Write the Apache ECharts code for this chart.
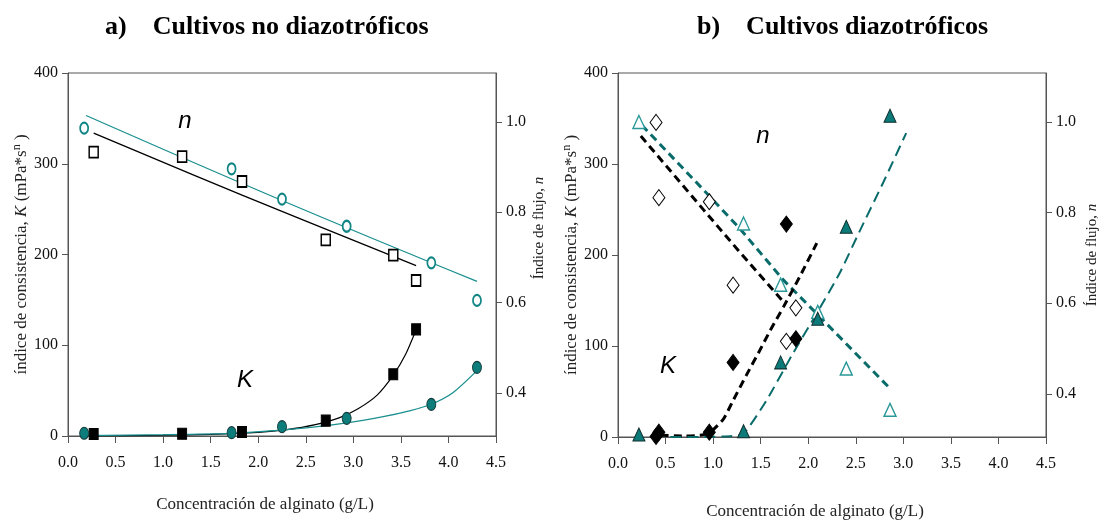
<!DOCTYPE html>
<html>
<head>
<meta charset="utf-8">
<script src="https://cdn.jsdelivr.net/npm/echarts@6/dist/echarts.min.js"></script>
<style>html,body{margin:0;padding:0;background:#fff;}#c{width:1099px;height:520px;}</style>
</head>
<body>
<div id="c"></div>
<script>
// ---------- data: a) Cultivos no diazotróficos ----------
const xNoDiazTeal = [0.17, 1.72, 2.25, 2.93, 3.82, 4.30];
const nNoDiazTeal = [0.986, 0.896, 0.829, 0.769, 0.688, 0.605];
const kNoDiazTeal = [3.0, 3.7, 10.3, 19.5, 34.9, 75.7];
const xNoDiazBlack = [0.27, 1.20, 1.83, 2.71, 3.42, 3.66];
const nNoDiazBlack = [0.933, 0.923, 0.868, 0.739, 0.705, 0.649];
const kNoDiazBlack = [2.2, 2.5, 4.4, 16.9, 68, 117.5];
// fitted curves
const nFitNoDiazTealX = [0.19, 2.25, 4.3];
const nFitNoDiazTealY = [1.014, 0.826, 0.647];
const nFitNoDiazBlackX = [0.27, 1.83, 3.66];
const nFitNoDiazBlackY = [0.975, 0.838, 0.682];
const kFitNoDiazBlackX = [0.27, 1.0, 1.5, 2.0, 2.3, 2.6, 2.85, 3.05, 3.25, 3.42, 3.55, 3.66];
const kFitNoDiazBlackY = [0.2, 0.8, 1.8, 4.0, 7, 12.5, 20, 30, 45, 67, 90, 117];
const kFitNoDiazTealX = [0.17, 1.0, 1.7, 2.25, 2.6, 2.93, 3.3, 3.6, 3.82, 4.05, 4.3];
const kFitNoDiazTealY = [0.5, 1.5, 3, 6.5, 10, 14.5, 21, 28, 35, 48, 72];

// ---------- data: b) Cultivos diazotróficos ----------
const xDiazTri = [0.22, 1.32, 1.71, 2.10, 2.40, 2.86];
const nDiazTri = [1.0, 0.776, 0.641, 0.581, 0.456, 0.365];
const kDiazTri = [2.8, 6.4, 82, 130, 231, 353];
const xDiazDia = [0.40, 0.43, 0.96, 1.21, 1.77, 1.87];
const nDiazDia = [0.999, 0.833, 0.824, 0.640, 0.516, 0.590];
const kDiazDia = [0.5, 5.3, 5.3, 82, 234, 108];
const nFitDiazBlackX = [0.24, 0.9, 1.28, 1.76];
const nFitDiazBlackY = [0.969, 0.806, 0.713, 0.598];
const nFitDiazTealX = [0.25, 0.9, 1.28, 1.74, 2.09, 2.86];
const nFitDiazTealY = [0.993, 0.85, 0.765, 0.651, 0.577, 0.412];
const kFitDiazBlackX = [0.45, 0.7, 0.9, 1.0, 1.11, 1.21, 1.35, 1.49, 1.6, 1.74, 1.91, 2.09];
const kFitDiazBlackY = [2, 1, 2.5, 8, 20, 40, 68, 95, 117, 143, 176, 213];
const kFitDiazTealX = [0.55, 0.9, 1.2, 1.32, 1.56, 1.84, 2.09, 2.33, 2.54, 2.79, 3.03];
const kFitDiazTealY = [0, 0, 1, 3.5, 40, 92, 136, 180, 226, 280, 334];

// ---------- axis ticks ----------
const xTicks = [0, 0.5, 1, 1.5, 2, 2.5, 3, 3.5, 4, 4.5];
const kTicks = [0, 100, 200, 300, 400];
const nTicks = [0.4, 0.6, 0.8, 1.0];

const titleA = 'a)    Cultivos no diazotróficos';
const titleB = 'b)    Cultivos diazotróficos';
const xName = 'Concentración de alginato (g/L)';

const zip = (xs, ys) => xs.map((x, i) => [x, ys[i]]);
const SERIF = '"Liberation Serif", "Times New Roman", serif';
const AX = '#555';
const TEAL = '#128585';
const TEALD = '#0a6b6b';
const ELLIPSE = 'path://M50,0A50,50,0,1,1,50,100A50,50,0,1,1,50,0Z';

function xAxis(g) {
  return {
    gridIndex: g, type: 'value', min: 0, max: 4.5, interval: 0.5,
    axisLine: { show: true, lineStyle: { color: AX, width: 1 } },
    axisTick: { show: true, length: 7, lineStyle: { color: AX } },
    axisLabel: { margin: 19, fontFamily: SERIF, fontSize: 16, color: '#111',
      formatter: v => v.toFixed(1) },
    splitLine: { show: false }
  };
}
function kAxis(g, gap) {
  return {
    gridIndex: g, type: 'value', position: 'left', min: 0, max: 400, interval: 100,
    axisLine: { show: true, lineStyle: { color: AX } },
    axisTick: { show: true, length: 6, lineStyle: { color: AX } },
    axisLabel: { margin: 10, fontFamily: SERIF, fontSize: 16, color: '#111' },
    splitLine: { show: false },
    name: 'índice de consistencia, {i|K} (mPa*s{s|n} )',
    nameLocation: 'middle', nameGap: gap, nameRotate: 90,
    nameTextStyle: { fontFamily: SERIF, fontSize: 17, color: '#222',
      rich: { i: { fontFamily: SERIF, fontStyle: 'italic', fontSize: 17, color: '#222' },
              s: { fontFamily: SERIF, fontSize: 12, color: '#222', padding: [0, 0, 9, 0] } } }
  };
}
function nAxis(g) {
  return {
    gridIndex: g, type: 'value', position: 'right', min: 0.305, max: 1.108,
    axisLine: { show: true, lineStyle: { color: AX } },
    axisTick: { show: true, length: 6, lineStyle: { color: AX }, customValues: nTicks },
    axisLabel: { margin: 10, fontFamily: SERIF, fontSize: 16, color: '#111',
      customValues: nTicks, formatter: v => v.toFixed(1) },
    splitLine: { show: false }
  };
}
function fit(g, yi, xs, ys, color, width, dash, smooth) {
  return { type: 'line', xAxisIndex: g, yAxisIndex: yi, data: zip(xs, ys),
    showSymbol: false, symbol: 'none', smooth: smooth, z: 2,
    lineStyle: { color: color, width: width, type: dash }, silent: true };
}
function pts(g, yi, xs, ys, symbol, size, fill, stroke, bw) {
  return { type: 'scatter', xAxisIndex: g, yAxisIndex: yi, data: zip(xs, ys),
    symbol: symbol, symbolSize: size, z: 5,
    itemStyle: { color: fill, borderColor: stroke, borderWidth: bw, opacity: 1 } };
}
const ITAL = 'italic 24px "Liberation Sans", Arial, sans-serif';

const option = {
  animation: false,
  backgroundColor: '#fff',
  grid: [
    { left: 68, top: 73, width: 428, height: 363, show: true, borderColor: AX, borderWidth: 1, backgroundColor: 'transparent' },
    { left: 618, top: 73, width: 428, height: 364, show: true, borderColor: AX, borderWidth: 1, backgroundColor: 'transparent' }
  ],
  xAxis: [xAxis(0), xAxis(1)],
  yAxis: [kAxis(0, 21), nAxis(0), kAxis(1, 31), nAxis(1)],
  series: [
    // a) fits
    fit(0, 1, nFitNoDiazTealX, nFitNoDiazTealY, '#1a8f8f', 1.3, 'solid', 0.4),
    fit(0, 1, nFitNoDiazBlackX, nFitNoDiazBlackY, '#000', 1.3, 'solid', 0.4),
    fit(0, 0, kFitNoDiazBlackX, kFitNoDiazBlackY, '#000', 1.2, 'solid', 0.25),
    fit(0, 0, kFitNoDiazTealX, kFitNoDiazTealY, '#1a8f8f', 1.3, 'solid', 0.25),
    // a) points
    pts(0, 1, xNoDiazTeal, nNoDiazTeal, ELLIPSE, [8, 11], '#fff', TEAL, 2),
    pts(0, 1, xNoDiazBlack, nNoDiazBlack, 'rect', [9, 11], '#fff', '#000', 1.6),
    pts(0, 0, xNoDiazBlack, kNoDiazBlack, 'rect', [9, 11], '#000', '#000', 1),
    pts(0, 0, xNoDiazTeal, kNoDiazTeal, ELLIPSE, [9, 12], '#0d7d7c', '#163c3c', 1),
    // b) fits
    fit(1, 3, nFitDiazBlackX, nFitDiazBlackY, '#000', 3, [8, 5], false),
    fit(1, 3, nFitDiazTealX, nFitDiazTealY, TEALD, 3, [8, 5], false),
    fit(1, 2, kFitDiazBlackX, kFitDiazBlackY, '#000', 3, [8, 5], 0.2),
    fit(1, 2, kFitDiazTealX, kFitDiazTealY, TEALD, 2, [11, 6], 0.2),
    // b) points
    pts(1, 3, xDiazDia, nDiazDia, 'diamond', [12, 16], '#fff', '#000', 1),
    pts(1, 3, xDiazTri, nDiazTri, 'triangle', [12, 13], '#fff', '#2a9898', 1.4),
    pts(1, 2, xDiazDia, kDiazDia, 'diamond', [12, 16], '#000', '#000', 1),
    pts(1, 2, xDiazTri, kDiazTri, 'triangle', [12, 13], '#0b7a78', '#102f2f', 1)
  ],
  graphic: [
    { type: 'text', left: 105, top: 14, style: { text: titleA, font: 'bold 26px ' + SERIF, fill: '#000' } },
    { type: 'text', left: 697, top: 14, style: { text: titleB, font: 'bold 26px ' + SERIF, fill: '#000' } },
    { type: 'text', x: 265, y: 505, style: { text: xName, font: '17px ' + SERIF, fill: '#222', align: 'center', verticalAlign: 'middle' } },
    { type: 'text', x: 815, y: 512, style: { text: xName, font: '17px ' + SERIF, fill: '#222', align: 'center', verticalAlign: 'middle' } },
    { type: 'text', x: 539, y: 228, rotation: Math.PI / 2,
      style: { text: 'Índice de flujo, {i|n}', font: '15px ' + SERIF, fill: '#222', align: 'center', verticalAlign: 'middle',
        rich: { i: { font: 'italic 15px ' + SERIF, fill: '#222' } } } },
    { type: 'text', x: 1092, y: 255, rotation: Math.PI / 2,
      style: { text: 'Índice de flujo, {i|n}', font: '15px ' + SERIF, fill: '#222', align: 'center', verticalAlign: 'middle',
        rich: { i: { font: 'italic 15px ' + SERIF, fill: '#222' } } } },
    { type: 'text', x: 185, y: 121, style: { text: 'n', font: ITAL, fill: '#000', align: 'center', verticalAlign: 'middle' } },
    { type: 'text', x: 245, y: 380, style: { text: 'K', font: ITAL, fill: '#000', align: 'center', verticalAlign: 'middle' } },
    { type: 'text', x: 763, y: 136, style: { text: 'n', font: ITAL, fill: '#000', align: 'center', verticalAlign: 'middle' } },
    { type: 'text', x: 668, y: 366, style: { text: 'K', font: ITAL, fill: '#000', align: 'center', verticalAlign: 'middle' } }
  ]
};
const chart = echarts.init(document.getElementById('c'), null, { renderer: 'canvas' });
chart.setOption(option);
</script>
</body>
</html>
